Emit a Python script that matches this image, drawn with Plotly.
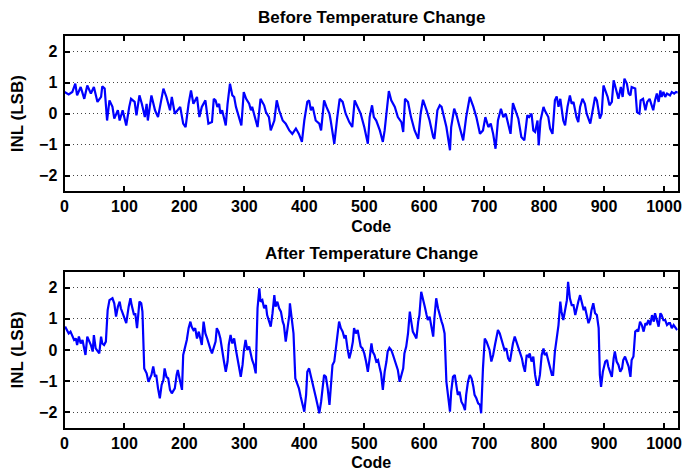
import plotly.graph_objects as go

# ---- Data (code, INL in LSB) ----
before_code = [0, 7, 13, 18, 21, 27, 33, 38, 44, 49, 55, 61, 63, 67, 71, 75, 80, 83, 89, 92, 97, 103, 108, 111,
               117, 120, 125, 129, 134, 137, 139, 145, 151, 156, 165, 170, 176, 179, 184, 193, 198, 202, 207, 211,
               215, 221, 225, 229, 235, 240, 246, 249, 252, 255, 258, 260, 263, 266, 269, 272, 276, 280, 283, 286,
               291, 295, 299, 303, 308, 311, 313, 319, 322, 327, 333, 336, 341, 344, 350, 354, 358, 364, 369, 375,
               380, 386, 391, 396, 400, 405, 408, 411, 414, 419, 425, 428, 433, 437, 442, 444, 447, 450, 455, 459,
               464, 469, 475, 480, 484, 489, 494, 500, 503, 506, 509, 513, 516, 520, 526, 531, 534, 537, 541, 545,
               551, 556, 562, 565, 568, 573, 578, 584, 590, 594, 598, 604, 609, 615, 617, 622, 626, 629, 634, 637,
               643, 645, 650, 654, 659, 665, 670, 676, 682, 687, 693, 698, 702, 707, 711, 715, 719, 723, 728, 732,
               736, 740, 744, 748, 752, 757, 762, 767, 772, 775, 779, 782, 785, 789, 791, 794, 799, 801, 807, 810,
               814, 818, 821, 824, 827, 829, 832, 835, 839, 843, 846, 849, 854, 857, 860, 864, 868, 871, 877, 879,
               885, 888, 893, 896, 899, 902, 906, 909, 913, 916, 918, 921, 924, 928, 931, 934, 938, 941, 944, 946,
               952, 955, 959, 961, 965, 969, 972, 976, 980, 982, 985, 988, 991, 994, 996, 999, 1002, 1005, 1010,
               1013, 1017, 1020, 1023]
before_inl = [0.70, 0.62, 0.70, 0.97, 0.59, 0.86, 0.48, 0.91, 0.65, 0.86, 0.38, 0.54, 0.88, 0.81, -0.22, 0.43,
              0.22, -0.16, 0.11, -0.22, 0.11, -0.38, 0.22, 0.48, 0.38, -0.05, 0.59, 0.32, -0.11, 0.32, -0.22, 0.59,
              0.11, -0.11, 0.81, 0.54, 0.11, 0.54, 0.00, 0.22, -0.32, -0.43, 0.32, 0.75, 0.32, 0.54, -0.11, 0.22,
              0.43, -0.32, -0.27, 0.48, 0.43, 0.22, 0.32, 0.00, 0.11, -0.16, -0.38, 0.32, 0.97, 0.59, 0.54, 0.22,
              -0.16, -0.38, 0.70, 0.48, 0.32, 0.11, 0.22, -0.22, -0.43, 0.48, 0.27, 0.05, -0.11, -0.54, -0.22, 0.43,
              0.11, -0.22, -0.32, -0.54, -0.65, -0.48, -0.65, -0.91, -0.22, 0.38, 0.43, 0.11, 0.22, -0.22, -0.32,
              -0.54, 0.43, 0.22, 0.00, -0.22, -0.65, -0.97, -0.11, 0.48, 0.38, 0.00, -0.27, -0.43, 0.43, 0.22, 0.00,
              -0.43, -0.70, -0.97, -0.11, 0.27, -0.11, -0.22, -0.54, -0.91, -0.54, 0.11, 0.73, 0.43, 0.22, -0.11,
              -0.27, -0.59, 0.48, 0.38, -0.11, -0.54, -0.81, 0.00, 0.45, 0.11, -0.22, -0.75, -0.81, 0.11, 0.27, 0.22,
              -0.22, -0.43, -1.18, -0.43, 0.16, -0.05, -0.43, -0.86, -0.11, 0.54, 0.22, -0.11, -0.65, -0.54, -0.11,
              -0.43, -0.32, -0.65, -1.13, -0.22, 0.16, -0.11, 0.00, -0.38, -0.65, 0.34, 0.11, -0.16, -0.75, -0.86,
              -0.05, -0.11, 0.00, -0.54, -0.59, -0.22, -1.02, -0.22, 0.22, 0.11, -0.11, -0.48, -0.65, 0.43, 0.56,
              0.22, 0.48, 0.11, -0.22, -0.38, 0.22, 0.59, 0.32, 0.38, -0.11, -0.27, 0.22, 0.48, 0.32, 0.00, -0.32,
              -0.11, 0.54, 0.43, -0.16, 0.00, 0.91, 0.75, 0.54, 0.27, 0.38, 1.08, 0.91, 0.65, 0.48, 0.86, 0.54, 1.13,
              0.97, 0.65, 0.59, 0.86, 0.81, 0.05, 0.00, 0.43, 0.48, 0.11, 0.38, 0.48, 0.22, 0.11, 0.43, 0.65, 0.38,
              0.75, 0.54, 0.70, 0.54, 0.65, 0.59, 0.70, 0.65, 0.70, 0.68]

after_code = [1, 4, 7, 10, 13, 16, 19, 21, 24, 27, 30, 33, 35, 38, 41, 44, 47, 49, 52, 55, 58, 61, 63, 66, 69, 72,
              75, 80, 83, 86, 89, 92, 94, 97, 100, 103, 107, 110, 112, 116, 118, 121, 125, 128, 130, 133, 137, 140,
              145, 148, 151, 153, 156, 159, 162, 165, 167, 170, 173, 176, 179, 181, 184, 187, 189, 193, 196, 198,
              201, 204, 207, 210, 212, 215, 218, 221, 224, 226, 229, 232, 235, 238, 240, 243, 246, 249, 252, 254,
              257, 260, 263, 266, 269, 272, 274, 277, 280, 283, 286, 288, 291, 294, 297, 299, 302, 305, 308, 311,
              313, 316, 319, 322, 325, 327, 330, 333, 336, 338, 341, 344, 347, 350, 352, 355, 358, 361, 364, 366,
              369, 372, 375, 376, 379, 382, 385, 389, 391, 394, 397, 400, 403, 405, 408, 411, 414, 416, 419, 422,
              425, 428, 430, 433, 436, 439, 442, 444, 447, 450, 453, 455, 458, 461, 464, 467, 469, 472, 475, 478,
              481, 483, 486, 489, 492, 494, 497, 500, 503, 506, 509, 512, 514, 517, 520, 523, 526, 528, 531, 534,
              537, 539, 542, 545, 548, 551, 553, 556, 559, 562, 565, 567, 570, 573, 576, 578, 581, 584, 587, 590,
              592, 595, 598, 601, 604, 606, 609, 612, 615, 617, 620, 623, 626, 629, 631, 634, 637, 640, 643, 645,
              648, 651, 654, 656, 659, 662, 665, 668, 670, 673, 676, 679, 682, 684, 687, 690, 693, 695, 698, 701,
              704, 707, 709, 712, 715, 718, 720, 723, 726, 729, 732, 734, 737, 740, 743, 746, 748, 751, 754, 757,
              760, 763, 765, 768, 771, 774, 776, 779, 782, 785, 788, 790, 793, 796, 799, 801, 804, 807, 810, 813,
              815, 818, 821, 824, 827, 829, 832, 835, 838, 840, 843, 846, 849, 852, 854, 857, 860, 863, 866, 868,
              871, 874, 877, 879, 882, 885, 888, 891, 893, 895, 898, 902, 905, 907, 910, 913, 916, 918, 921, 924,
              927, 930, 932, 935, 938, 941, 944, 946, 949, 952, 955, 957, 960, 963, 966, 969, 971, 974, 977, 980,
              983, 985, 988, 991, 994, 996, 999, 1002, 1005, 1008, 1010, 1013, 1016, 1019, 1022]
after_inl = [0.75, 0.64, 0.53, 0.59, 0.43, 0.32, 0.37, 0.16, 0.43, 0.21, 0.32, 0.05, -0.16, 0.43, 0.32, 0.16,
             -0.05, 0.48, 0.05, -0.05, -0.11, 0.43, 0.21, 0.16, 0.27, 1.28, 1.60, 1.66, 1.50, 1.07, 1.39, 1.55, 1.34,
             1.18, 1.02, 0.86, 1.39, 1.66, 1.44, 1.12, 1.18, 0.70, 1.55, 1.50, 1.23, -0.59, -0.75, -1.02, -0.80,
             -0.53, -0.86, -0.80, -1.23, -1.55, -1.12, -0.96, -0.59, -0.86, -0.91, -1.28, -1.39, -1.34, -1.23, -0.80,
             -0.64, -1.02, -1.28, -0.16, 0.05, 0.32, 0.70, 0.91, 0.75, 0.64, 0.70, 0.37, 0.59, 0.43, 0.16, 0.91,
             0.53, 0.37, 0.21, 0.05, -0.11, 0.11, 0.27, 0.70, 0.59, 0.37, -0.05, -0.37, -0.70, -0.37, 0.16, 0.48,
             0.21, 0.37, 0.00, -0.21, -0.48, -0.86, -0.48, -0.05, 0.32, 0.00, 0.11, -0.16, -0.32, -0.48, -0.75, 1.34,
             1.98, 1.55, 1.60, 1.34, 1.44, 1.12, 0.96, 0.75, 1.18, 1.76, 1.39, 1.55, 1.34, 1.23, 0.91, 0.80, 0.27,
             0.70, 1.12, 1.50, 1.02, 0.53, -0.91, -1.12, -1.23, -1.50, -1.76, -1.98, -1.44, -0.70, -0.59, -0.86,
             -1.12, -1.34, -1.50, -1.76, -2.03, -1.66, -1.34, -0.80, -0.86, -1.23, -1.76, -1.34, -0.48, -0.37, 0.16,
             0.53, 0.91, 0.70, 0.59, 0.37, 0.48, 0.05, -0.27, -0.05, 0.27, 0.70, 0.53, 0.64, 0.27, 0.11, 0.05, -0.11,
             -0.37, -0.70, -0.27, 0.21, -0.05, -0.16, -0.37, -0.32, -0.59, -0.75, -1.28, -0.70, -0.37, -0.05, 0.07,
             0.00, -0.16, -0.32, -0.48, -0.64, -1.02, -0.80, -0.59, -0.11, 0.11, 0.53, 1.23, 0.96, 0.59, 0.48, 0.37,
             0.91, 1.12, 1.87, 1.66, 1.39, 1.12, 0.96, 1.07, 0.75, 0.43, 1.02, 1.66, 1.34, 1.07, 0.91, 0.80, 0.53,
             -1.02, -1.55, -1.98, -1.34, -0.86, -0.80, -1.18, -1.44, -1.34, -1.66, -1.76, -1.93, -1.44, -1.02, -0.80,
             -0.91, -1.18, -1.44, -1.55, -1.71, -1.76, -2.03, -0.59, 0.37, 0.27, 0.11, 0.00, -0.37, -0.16, 0.16,
             0.37, 0.64, 0.53, 0.32, 0.16, 0.00, 0.05, -0.27, -0.37, 0.05, 0.21, 0.43, 0.27, 0.11, -0.05, -0.27,
             -0.48, -0.70, -0.16, -0.21, -0.11, -0.37, -0.21, -0.80, -1.12, -1.12, -0.80, -0.16, 0.05, -0.16, -0.11,
             -0.37, -0.59, -0.80, -0.80, -0.05, 0.37, 0.80, 1.55, 1.23, 0.96, 1.34, 1.60, 2.19, 1.66, 1.44, 1.44,
             1.12, 1.34, 1.55, 1.76, 1.50, 1.28, 1.39, 1.12, 0.86, 1.02, 1.28, 1.50, 1.18, 1.12, 0.70, -0.80, -1.18,
             -0.70, -0.37, -0.32, -0.53, -0.70, -0.86, -0.27, -0.05, -0.37, -0.48, -0.70, -0.59, -0.32, -0.21, -0.37,
             -0.53, -0.86, -0.32, -0.21, 0.59, 0.64, 0.59, 0.91, 0.80, 0.59, 0.86, 0.80, 0.96, 0.80, 1.12, 0.91,
             1.18, 0.96, 0.75, 1.18, 1.12, 0.96, 0.96, 0.80, 0.86, 0.86, 0.70, 0.80, 0.70, 0.64]

titles = ["Before Temperature Change", "After Temperature Change"]
x_ticks = [0, 100, 200, 300, 400, 500, 600, 700, 800, 900, 1000]
y_ticks = [-2, -1, 0, 1, 2]
x_title = "Code"
y_title = "INL (LSB)"

# The page body has an 8px margin, so the figure is sized to fill the rest of the window.
OFF = 8
W, H = 699 - OFF, 473 - OFF
FONT = "Liberation Sans, Arial, Helvetica, sans-serif"


def px_x(p):  # page pixel -> paper fraction
    return (p - OFF) / W


def px_y(p):
    return 1 - (p - OFF) / H


fig = go.Figure()
fig.add_trace(go.Scatter(x=before_code, y=before_inl, mode="lines",
                         line=dict(color="#0000FF", width=2.2), xaxis="x", yaxis="y", showlegend=False))
fig.add_trace(go.Scatter(x=after_code, y=after_inl, mode="lines",
                         line=dict(color="#0000FF", width=2.2), xaxis="x2", yaxis="y2", showlegend=False))

xdom = [px_x(64.5), px_x(677.8)]
ydom_top = [px_y(191.2), px_y(36.2)]
ydom_bot = [px_y(427.9), px_y(272.1)]

common_x = dict(range=[0, 1023], tickvals=x_ticks, ticks="inside", ticklen=5, tickwidth=2,
                tickcolor="black", showline=True, linecolor="black", linewidth=2, mirror="ticks",
                showgrid=False, zeroline=False, domain=xdom, automargin=False,
                tickfont=dict(family=FONT, size=16, color="black", weight="bold"),
                title=dict(text=x_title, font=dict(family=FONT, size=16, color="black", weight="bold"),
                           standoff=6))
common_y = dict(range=[-2.5, 2.5], tickvals=y_ticks, ticks="inside", ticklen=5, tickwidth=2,
                tickcolor="black", showline=True, linecolor="black", linewidth=2, mirror="ticks",
                showgrid=True, gridcolor="#444444", griddash="1px,3px", gridwidth=1, zeroline=False,
                automargin=False, ticklabelstandoff=2,
                tickfont=dict(family=FONT, size=16, color="black", weight="bold"),
                title=dict(text=y_title, font=dict(family=FONT, size=17, color="black", weight="bold"),
                           standoff=12))

fig.update_layout(
    width=W, height=H, margin=dict(l=0, r=0, t=0, b=0, autoexpand=False),
    paper_bgcolor="white", plot_bgcolor="white",
    xaxis=dict(common_x, anchor="y"),
    yaxis=dict(common_y, domain=ydom_top, anchor="x"),
    xaxis2=dict(common_x, anchor="y2"),
    yaxis2=dict(common_y, domain=ydom_bot, anchor="x2"),
    annotations=[
        dict(text=titles[0], x=px_x(371), y=px_y(17), xref="paper", yref="paper", showarrow=False,
             yanchor="middle", font=dict(family=FONT, size=17, color="black", weight="bold")),
        dict(text=titles[1], x=px_x(371), y=px_y(253), xref="paper", yref="paper", showarrow=False,
             yanchor="middle", font=dict(family=FONT, size=17, color="black", weight="bold")),
    ],
)

fig.write_html("out.html")
